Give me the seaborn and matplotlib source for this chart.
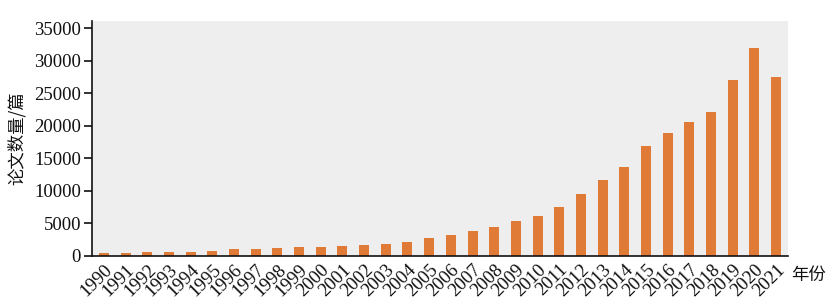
import matplotlib
matplotlib.use("Agg")
import matplotlib.pyplot as plt
import seaborn as sns
import pandas as pd

years = [str(y) for y in range(1990, 2022)]
papers = [380, 380, 540, 540, 540, 690, 1000, 1000, 1150, 1300, 1300, 1460,
          1620, 1770, 2080, 2690, 3150, 3770, 4380, 5310, 6080, 7460, 9460,
          11620, 13620, 16850, 18850, 20540, 22080, 27000, 31920, 27460]
yticks = [0, 5000, 10000, 15000, 20000, 25000, 30000, 35000]
ylabel = "论文数量/篇"
xlabel = "年份"

sns.set_theme(style="white")
plt.rcParams['font.family'] = ['Liberation Serif', 'Noto Sans CJK SC', 'DejaVu Sans']

df = pd.DataFrame({"year": years, "papers": papers})

fig = plt.figure(figsize=(8.32, 3.02), dpi=100)
ax = fig.add_axes([92/832, 1 - 255.5/302, (788-92)/832, (255.5-21)/302])
ax.set_facecolor("#edeeed")
sns.barplot(data=df, x="year", y="papers", color="#e07b37", width=0.46,
            saturation=1, linewidth=0, edgecolor="none", ax=ax)
ax.set_xlim(-0.55, 31.55)
ax.set_ylim(0, 36080)
ax.set_yticks(yticks)
ax.set_yticklabels([str(v) for v in yticks], fontsize=13.5, color="#111111")
ax.set_xticks(range(len(years)))
ax.set_xticklabels(years, rotation=45, ha="right", rotation_mode="anchor",
                   fontsize=13.5, color="#111111")
ax.tick_params(axis="y", direction="out", length=6, width=1.2, color="#111111",
               pad=2, left=True)
ax.tick_params(axis="x", length=0, pad=4)
for s in ["top", "right"]:
    ax.spines[s].set_visible(False)
for s in ["left", "bottom"]:
    ax.spines[s].set_visible(True)
    ax.spines[s].set_color("#111111")
    ax.spines[s].set_linewidth(1.2)
ax.set_xlabel("")
ax.set_ylabel(ylabel, fontsize=12.5, family=['Noto Sans CJK SC'], labelpad=6,
              color="#111111")
fig.text(808/832, 1 - 275/302, xlabel, fontsize=12.5, family=['Noto Sans CJK SC'],
         ha="center", va="center", color="#111111")

fig.savefig("out.png", dpi=100)
